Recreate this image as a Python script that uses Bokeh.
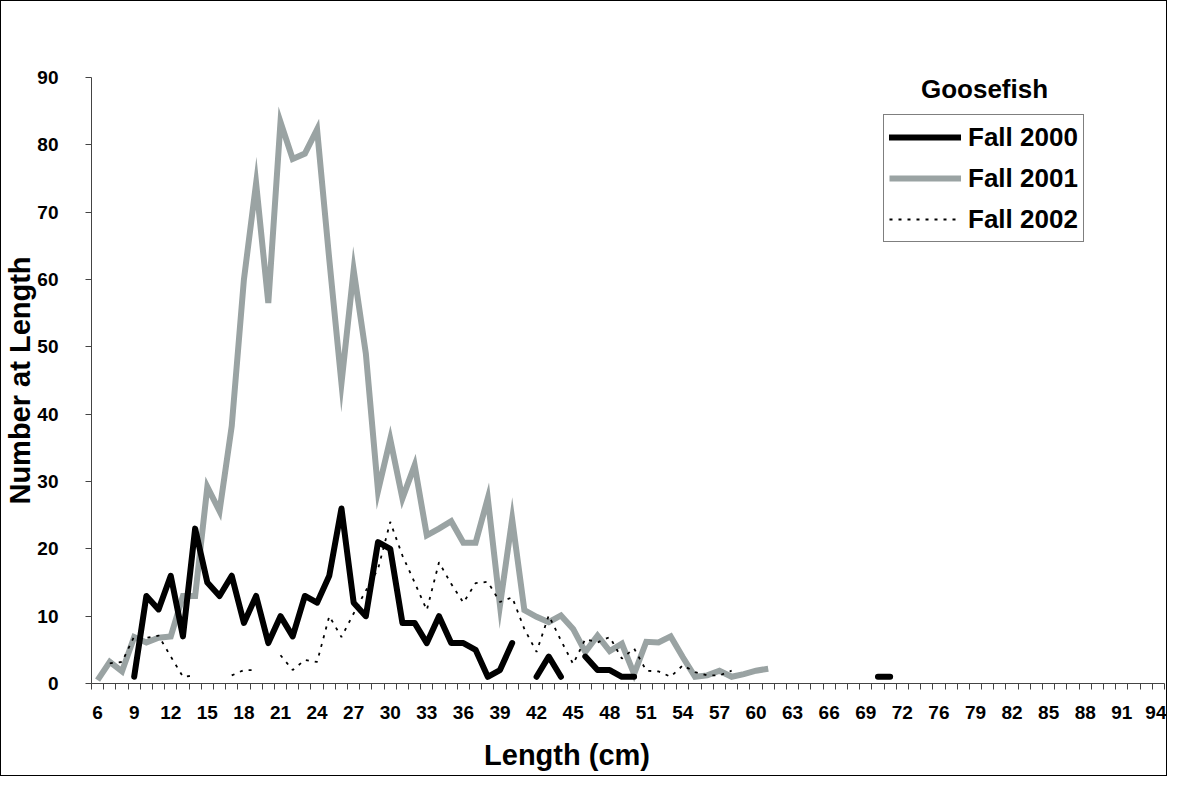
import numpy as np
from bokeh.plotting import figure
from bokeh.models import (FixedTicker, Legend, LegendItem, Label, Range1d, ColumnDataSource,
                          LinearAxis)
from bokeh.embed import file_html
from bokeh.resources import INLINE

# ---- data ----
lengths = ["6", "7", "8", "9", "10", "11", "12", "13", "14", "15", "16", "17", "18", "19", "20",
           "21", "22", "23", "24", "25", "26", "27", "28", "29", "30", "31", "32", "33", "34", "35",
           "36", "37", "38", "39", "40", "41", "42", "43", "44", "45", "46", "47", "48", "49", "50",
           "51", "52", "53", "54", "55", "56", "57", "58", "59", "60", "61", "62", "63", "64", "65",
           "66", "67", "68", "69", "70", "71", "72", "73", "74", "76", "77", "78", "79", "80", "81",
           "82", "83", "84", "85", "86", "87", "88", "89", "90", "91", "92", "93", "94"]

N = None
fall_2000 = [N, N, N, 1, 13, 11, 16, 7, 23, 15, 13, 16, 9, 13, 6,
             10, 7, 13, 12, 16, 26, 12, 10, 21, 20, 9, 9, 6, 10, 6,
             6, 5, 1, 2, 6, N, 1, 4, 1, N, 4, 2, 2, 1, 1,
             N, N, N, N, N, N, N, N, N, N, N, N, N, N, N,
             N, N, N, N, 1, 1, N, N, N, N, N, N, N, N, N,
             N, N, N, N, N, N, N, N, N, N, N, N, N]
fall_2001 = [0.5, 3.2, 1.8, 6.9, 6.1, 6.8, 7, 13, 13, 29.2, 25.6, 38.2, 60, 74.3, 56.5,
             83.4, 77.9, 78.7, 82.3, 63, 44.6, 61.4, 49, 28.6, 36.3, 27.5, 32.4, 22, 23, 24.1,
             20.9, 20.9, 27.5, 11.6, 24.4, 10.9, 9.9, 9.1, 10.1, 8.1, 4.7, 7.1, 4.8, 5.9, 1.4,
             6.2, 6.1, 7.0, 3.9, 1.0, 1.2, 1.9, 1.0, 1.4, 1.9, 2.2, N, N, N, N,
             N, N, N, N, N, N, N, N, N, N, N, N, N, N, N,
             N, N, N, N, N, N, N, N, N, N, N, N, N]
fall_2002 = [N, 3, 3.2, 7, 6.8, 7.1, 4, 1, 1.2, N, N, 1.2, 2, 2, N,
             4.2, 2, 3.5, 3.2, 10, 6.9, 10.4, 13.8, 17, 24, 19, 15, 10.9, 18, 14.8,
             12, 14.9, 15.1, 12.1, 12.8, 8.1, 4.7, 10.1, 6.4, 2.9, 6.6, 6.1, 6.9, 3.7, 5.2,
             1.9, 1.8, 1.0, 2.7, 1.7, 1.2, 1.2, 1.9, N, N, N, N, N, N, N,
             N, N, N, N, N, N, N, N, N, N, N, N, N, N, N,
             N, N, N, N, N, N, N, N, N, N, N, N, N]
y_ticks = [0, 10, 20, 30, 40, 50, 60, 70, 80, 90]
series_names = ["Fall 2000", "Fall 2001", "Fall 2002"]
chart_title = "Goosefish"
x_title = "Length (cm)"
y_title = "Number at Length"


def to_arr(v):
    return np.array([np.nan if a is None else a for a in v], dtype=float)


idx = list(range(len(lengths)))
src = ColumnDataSource(dict(x=idx, f00=to_arr(fall_2000), f01=to_arr(fall_2001), f02=to_arr(fall_2002)))

FONT = "Liberation Sans"

p = figure(width=1167, height=776, output_backend="svg", toolbar_location=None,
           x_range=Range1d(-0.5, len(lengths) - 0.5), y_range=Range1d(0, 90),
           min_border_left=90, min_border_top=76, min_border_right=4, min_border_bottom=94)
p.styles = {"border": "1px solid black"}
p.xgrid.visible = False
p.ygrid.visible = False
p.outline_line_color = None
p.background_fill_color = "white"
p.border_fill_color = "white"

# lines
r01 = p.line("x", "f01", source=src, line_color="#9aa3a3", line_width=6,
             line_join="miter", line_cap="butt")
r00 = p.line("x", "f00", source=src, line_color="black", line_width=6,
             line_join="round", line_cap="round")
r02 = p.line("x", "f02", source=src, line_color="black", line_width=1.8,
             line_dash="3 6")

# x axis: labels every third category, tick marks between categories
lab_idx = idx[::3]
xa = p.xaxis[0]
xa.ticker = FixedTicker(ticks=lab_idx, minor_ticks=[i - 0.5 for i in range(len(lengths) + 1)])
xa.major_label_overrides = {i: lengths[i] for i in lab_idx}
xa.major_tick_out = 0
xa.major_tick_in = 0
xa.minor_tick_out = 6
xa.minor_tick_in = 0
xa.minor_tick_line_color = "#444444"
xa.axis_line_color = "#444444"
xa.major_label_standoff = 16

ya = p.yaxis[0]
ya.ticker = FixedTicker(ticks=y_ticks)
ya.major_tick_out = 6
ya.major_tick_in = 0
ya.major_tick_line_color = "#444444"
ya.minor_tick_line_color = None
ya.axis_line_color = "#444444"
ya.major_label_standoff = 27
ya.axis_label = y_title
ya.axis_label_standoff = -2
ya.axis_label_text_font = FONT
ya.axis_label_text_font_style = "bold"
ya.axis_label_text_font_size = "29px"
ya.axis_label_text_color = "black"

for ax in (xa, ya):
    ax.major_label_text_font = FONT
    ax.major_label_text_font_style = "bold"
    ax.major_label_text_font_size = "19px"
    ax.major_label_text_color = "black"

# x-axis title: written as the single label of an unticked axis, so that it sits
# left of the frame's centre as in the reference
title_pos = 38.5
xt = LinearAxis(ticker=FixedTicker(ticks=[title_pos], minor_ticks=[]),
                major_label_overrides={title_pos: x_title},
                axis_line_color=None, major_tick_line_color=None, minor_tick_line_color=None,
                major_tick_out=0, major_tick_in=0, minor_tick_out=0, minor_tick_in=0,
                major_label_standoff=17, major_label_text_font=FONT,
                major_label_text_font_style="bold", major_label_text_font_size="29px",
                major_label_text_color="black")
p.add_layout(xt, "below")

legend = Legend(items=[LegendItem(label=series_names[0], renderers=[r00]),
                       LegendItem(label=series_names[1], renderers=[r01]),
                       LegendItem(label=series_names[2], renderers=[r02])],
                location=(792, 441), margin=0, padding=5, spacing=7,
                glyph_width=72, glyph_height=34, label_height=34, label_standoff=7,
                border_line_color="black", border_line_width=1,
                background_fill_color="white", background_fill_alpha=1)
legend.label_text_font = FONT
legend.label_text_font_style = "bold"
legend.label_text_font_size = "26px"
legend.label_text_color = "black"
p.add_layout(legend)

p.add_layout(Label(x=893, y=595, x_units="screen", y_units="screen", text=chart_title,
                   text_align="center", text_baseline="middle", text_font=FONT,
                   text_font_style="bold", text_font_size="26px", text_color="black"))

open("out.html", "w").write(file_html(p, INLINE))
